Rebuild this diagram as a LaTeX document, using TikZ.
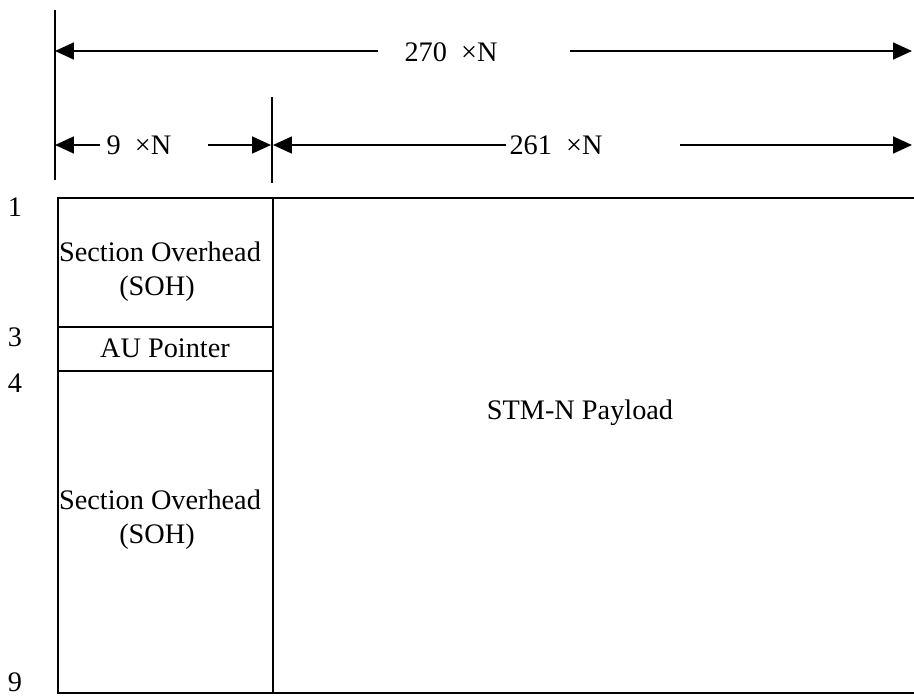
\documentclass[tikz,border=0pt]{standalone}
\usepackage{fontspec}
\setmainfont{Liberation Serif}
\usepackage{tikz}
\usetikzlibrary{arrows.meta,positioning,calc}

\begin{document}
\begin{tikzpicture}[
    x=0.02cm, y=-0.02cm,
    txt/.style={inner sep=0pt, font=\fontsize{16.1}{19}\selectfont, align=center},
    arr/.style={-{Triangle[length=0.38cm, width=0.34cm]}, line width=1pt},
    rule/.style={line width=1pt},
    frame/.style={line width=1.1pt}
]
\useasboundingbox (0,0) rectangle (914,697);

% dimension lines
\draw[rule] (55,10) -- (55,180);
\draw[rule] (272,97) -- (272,183);

\node[txt] (l270) at (451,52) {270\ \ ×N};
\node[txt] (l9) at (139,145) {9\ \ ×N};
\node[txt] (l261) at (556,145) {261\ \ ×N};

\coordinate (t270L) at (55,51);
\coordinate (t270R) at (912,51);
\coordinate (s270L) at (378,51);
\coordinate (s270R) at (570,51);
\coordinate (t9L) at (55,145);
\coordinate (t9R) at (271,145);
\coordinate (s9L) at (100,145);
\coordinate (s9R) at (208,145);
\coordinate (t261L) at (273,145);
\coordinate (t261R) at (912,145);
\coordinate (s261L) at (506,145);
\coordinate (s261R) at (680,145);

\draw[arr] (s270L) -- (t270L);
\draw[arr] (s270R) -- (t270R);
\draw[arr] (s9L) -- (t9L);
\draw[arr] (s9R) -- (t9R);
\draw[arr] (s261L) -- (t261L);
\draw[arr] (s261R) -- (t261R);

% frame
\draw[frame] (914,198) -- (58,198) -- (58,693) -- (914,693);
\draw[frame] (273,198) -- (273,693);
\draw[rule] (58,327) -- (273,327);
\draw[rule] (58,371) -- (273,371);

% rows
\node[txt] (r1) at (15,207) {1};
\node[txt] (r3) at (15,337) {3};
\node[txt] (r4) at (15,383) {4};
\node[txt] (r9) at (15,682) {9};

\node[txt] (soh1) at (160,252) {Section Overhead};
\node[txt] (soh1b) at (157,289) {(SOH)};
\node[txt] (aup) at (165,348) {AU Pointer};
\node[txt] (soh2) at (160,500) {Section Overhead};
\node[txt] (soh2b) at (157,537) {(SOH)};
\node[txt] (pay) at (580,413) {STM-N Payload};
\end{tikzpicture}
\end{document}
